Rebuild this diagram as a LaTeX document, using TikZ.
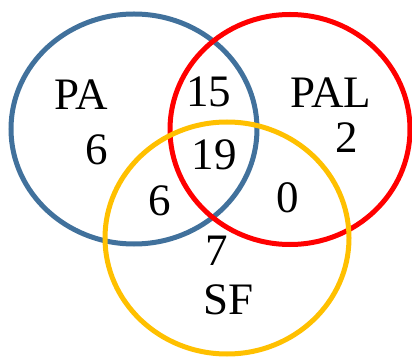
\documentclass[tikz,border=0pt]{standalone}
\usepackage{fontspec}
\setmainfont{Liberation Serif}
\usepackage{xcolor}
\usepackage{tikz}
\definecolor{paBlue}{HTML}{41719C}
\definecolor{palRed}{HTML}{FF0000}
\definecolor{sfYellow}{HTML}{FFC000}

\begin{document}
\begin{tikzpicture}[x=1pt, y=1pt,
    ring/.style={line width=5pt},
    lbl/.style={font=\fontsize{45}{50}\selectfont, inner sep=0pt}]
                \useasboundingbox (0,0) rectangle (412,359);
                % Sets
                \draw[ring, paBlue] (134,230) ellipse (123 and 115);
                \draw[ring, palRed] (290,229.5) ellipse (120 and 115);
                \draw[ring, sfYellow] (227,121) ellipse (122 and 116);
                % Set names
                \node[lbl] (pa) at (81,264) {PA};
                \node[lbl] (pal) at (331,266) {PAL};
                \node[lbl] (sf) at (229,59) {SF};
                % Counts
                \node[lbl] (paOnly) at (97,209) {6};
                \node[lbl] (palOnly) at (346.5,221) {2};
                \node[lbl] (paPal) at (208.5,267) {15};
                \node[lbl] (all) at (214,204) {19};
                \node[lbl] (paSf) at (160,158) {6};
                \node[lbl] (palSf) at (288,161) {0};
                \node[lbl] (sfOnly) at (217,108) {7};
\end{tikzpicture}
\end{document}
